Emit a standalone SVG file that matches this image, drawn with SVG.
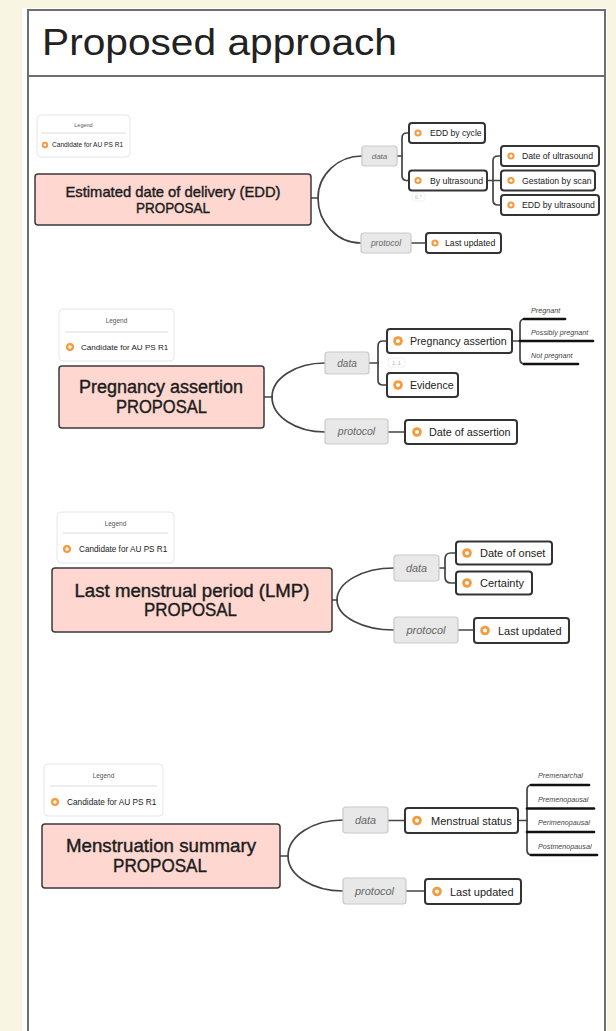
<svg xmlns="http://www.w3.org/2000/svg" xmlns:xlink="http://www.w3.org/1999/xlink" width="616" height="1031" viewBox="0 0 616 1031">
<style>
.main{fill:#fdd7d0;stroke:#3a3a3a;stroke-width:1.5}
.node{fill:#fff;stroke:#333;stroke-width:2}
.cat{fill:#e8e8e8;stroke:#c9c9c9;stroke-width:1.2}
.leg{fill:#fff;stroke:#e6e6e6;stroke-width:1}
.conn{fill:none;stroke:#444;stroke-width:1.7;stroke-linecap:round}
.val{fill:none;stroke:#111;stroke-width:2.6;stroke-linecap:round}
.sep{stroke:#dcdcdc;stroke-width:1}
.faint{fill:#fff;stroke:#ececec;stroke-width:0.8}
text{font-family:"Liberation Sans",Arial,sans-serif;fill:#222}
.t-main{text-anchor:middle;fill:#1c1c1c;stroke:#1c1c1c;stroke-width:0.4}
.t-cat{font-style:italic;fill:#666;text-anchor:middle}
.t-val{font-style:italic;fill:#444;font-size:7.2px}
.t-leg{fill:#555;text-anchor:middle}
.t-card{fill:#aaa;text-anchor:middle}
</style>
<defs>
<g id="ic"><circle r="1" fill="#f59a3d"/><circle r="0.42" fill="#fff"/></g>
</defs>
<rect x="0" y="0" width="616" height="1031" fill="#f8f6e3"/>
<rect x="22" y="8" width="585" height="1030" fill="#fff"/>
<rect x="28" y="10" width="577" height="1030" fill="#fff" stroke="#6e6e6e" stroke-width="2"/>
<line x1="28" y1="76" x2="605" y2="76" stroke="#6e6e6e" stroke-width="2"/>
<text x="42" y="55" font-size="37" textLength="355" lengthAdjust="spacingAndGlyphs" fill="#111">Proposed approach</text>

<g id="connectors">
<!-- EDD -->
<path class="conn" d="M311,198 H318"/>
<path class="conn" d="M318,198 A44,42 0 0 1 362,156"/>
<path class="conn" d="M318,198 A43,45 0 0 0 361,243"/>
<path class="conn" d="M397,156 H402"/>
<path class="conn" d="M409,133 H407 Q402,133 402,138 V175.5 Q402,180.5 407,180.5 H409"/>
<path class="conn" d="M487,180.5 H501"/>
<path class="conn" d="M501,156 H498 Q493,156 493,161 V200 Q493,205 498,205 H501"/>
<path class="conn" d="M411,243 H426"/>
<!-- Pregnancy -->
<path class="conn" d="M264,397 H272"/>
<path class="conn" d="M272,397 A53,34 0 0 1 325,363"/>
<path class="conn" d="M272,397 A53,35 0 0 0 325,432"/>
<path class="conn" d="M369,363 H378"/>
<path class="conn" d="M387,341 H383 Q378,341 378,346 V380 Q378,385 383,385 H387"/>
<path class="conn" d="M512,341 H520"/>
<path class="conn" d="M530,319 H525 Q520,319 520,324 V359 Q520,364 525,364 H530"/>
<path class="val" d="M524,319 H565"/>
<path class="val" d="M520,341 H593"/>
<path class="val" d="M524,364 H578"/>
<path class="conn" d="M388,432 H405"/>
<!-- LMP -->
<path class="conn" d="M332,600 H337"/>
<path class="conn" d="M337,600 A57,32 0 0 1 394,568"/>
<path class="conn" d="M337,600 A57,30 0 0 0 394,630"/>
<path class="conn" d="M439,568 H445"/>
<path class="conn" d="M456,553 H451 Q445,553 445,559 V577 Q445,583 451,583 H456"/>
<path class="conn" d="M458,630 H474"/>
<!-- Menstruation -->
<path class="conn" d="M280,856 H288"/>
<path class="conn" d="M288,856 A55,36 0 0 1 343,820"/>
<path class="conn" d="M288,856 A55,35 0 0 0 343,891"/>
<path class="conn" d="M388,820.5 H405"/>
<path class="conn" d="M518,820.5 H527"/>
<path class="conn" d="M537,785 H532 Q527,785 527,790 V850 Q527,855 532,855 H537"/>
<path class="val" d="M531,785 H589"/>
<path class="val" d="M527,808.5 H594"/>
<path class="val" d="M527,832 H594"/>
<path class="val" d="M531,855 H597"/>
<path class="conn" d="M406,891 H425"/>
</g>

<!-- ===== EDD ===== -->
<g id="legend-edd">
<rect class="leg" x="37" y="115" width="93" height="42" rx="4"/>
<text class="t-leg" x="83.5" y="126.5" font-size="5.5">Legend</text>
<line class="sep" x1="41" y1="133" x2="126" y2="133"/>
<use xlink:href="#ic" transform="translate(45,145) scale(3.2)"/>
<text x="52" y="147.3" font-size="6.6" fill="#444">Candidate for AU PS R1</text>
</g>
<g id="edd-main">
<rect class="main" x="35" y="174" width="276" height="51" rx="3"/>
<text class="t-main" x="173" y="197" font-size="14.5" textLength="215" lengthAdjust="spacingAndGlyphs">Estimated date of delivery (EDD)</text>
<text class="t-main" x="173" y="213" font-size="14.5" textLength="74" lengthAdjust="spacingAndGlyphs">PROPOSAL</text>
</g>
<g id="edd-data">
<rect class="cat" x="362" y="146" width="35" height="20" rx="3"/>
<text class="t-cat" x="379.5" y="158.8" font-size="8">data</text>
</g>
<g id="edd-cycle">
<rect class="node" x="409" y="123" width="76" height="20" rx="3"/>
<use xlink:href="#ic" transform="translate(418,133) scale(3.6)"/>
<text x="430" y="136" font-size="8.6">EDD by cycle</text>
</g>
<g id="edd-ultrasound">
<rect class="node" x="409" y="170.5" width="78" height="20" rx="3"/>
<use xlink:href="#ic" transform="translate(418,180.5) scale(3.6)"/>
<text x="430" y="183.5" font-size="8.7">By ultrasound</text>
<rect class="faint" x="412" y="193" width="13" height="8" rx="2"/>
<text class="t-card" x="418.5" y="198.8" font-size="4.5">0..*</text>
</g>
<g id="edd-date-us">
<rect class="node" x="501" y="146" width="98" height="20" rx="3"/>
<use xlink:href="#ic" transform="translate(511,156) scale(3.6)"/>
<text x="522" y="159" font-size="8.7">Date of ultrasound</text>
</g>
<g id="edd-gestation">
<rect class="node" x="501" y="170.5" width="94" height="20" rx="3"/>
<use xlink:href="#ic" transform="translate(511,180.5) scale(3.6)"/>
<text x="522" y="183.5" font-size="8.7">Gestation by scan</text>
</g>
<g id="edd-edd-us">
<rect class="node" x="501" y="195" width="98" height="20" rx="3"/>
<use xlink:href="#ic" transform="translate(511,205) scale(3.6)"/>
<text x="522" y="208" font-size="8.7">EDD by ultrasound</text>
</g>
<g id="edd-protocol">
<rect class="cat" x="361" y="233" width="50" height="20" rx="3"/>
<text class="t-cat" x="386" y="245.8" font-size="8.5">protocol</text>
</g>
<g id="edd-last-updated">
<rect class="node" x="426" y="233" width="75" height="20" rx="3"/>
<use xlink:href="#ic" transform="translate(435,243) scale(3.6)"/>
<text x="445" y="246" font-size="8.7">Last updated</text>
</g>

<!-- ===== Pregnancy ===== -->
<g id="legend-preg">
<rect class="leg" x="59" y="309" width="115" height="52" rx="4"/>
<text class="t-leg" x="116.5" y="323" font-size="6.5">Legend</text>
<line class="sep" x1="65" y1="332" x2="168" y2="332"/>
<use xlink:href="#ic" transform="translate(70,347) scale(4)"/>
<text x="81" y="350" font-size="8.1" fill="#444">Candidate for AU PS R1</text>
</g>
<g id="preg-main">
<rect class="main" x="59" y="366" width="205" height="62" rx="3"/>
<text class="t-main" x="161" y="393" font-size="18" textLength="164" lengthAdjust="spacingAndGlyphs">Pregnancy assertion</text>
<text class="t-main" x="161.5" y="413" font-size="18" textLength="91" lengthAdjust="spacingAndGlyphs">PROPOSAL</text>
</g>
<g id="preg-data">
<rect class="cat" x="325" y="352" width="44" height="22" rx="3"/>
<text class="t-cat" x="347" y="366.5" font-size="10">data</text>
</g>
<g id="preg-assertion">
<rect class="node" x="387" y="329" width="125" height="24" rx="3"/>
<use xlink:href="#ic" transform="translate(398,341) scale(4.8)"/>
<text x="410" y="345" font-size="10.6">Pregnancy assertion</text>
<rect class="faint" x="388" y="358" width="17" height="9" rx="2"/>
<text class="t-card" x="396.5" y="364.5" font-size="5">1..1</text>
</g>
<g id="preg-values">
<text class="t-val" x="531" y="312.5">Pregnant</text>
<text class="t-val" x="531" y="334.5">Possibly pregnant</text>
<text class="t-val" x="531" y="357.5">Not pregnant</text>
</g>
<g id="preg-evidence">
<rect class="node" x="387" y="373" width="71" height="24" rx="3"/>
<use xlink:href="#ic" transform="translate(398,385) scale(4.8)"/>
<text x="410" y="389" font-size="10.6">Evidence</text>
</g>
<g id="preg-protocol">
<rect class="cat" x="325" y="419" width="63" height="25" rx="3"/>
<text class="t-cat" x="356.5" y="435" font-size="10.5">protocol</text>
</g>
<g id="preg-date">
<rect class="node" x="405" y="420" width="112" height="24" rx="3"/>
<use xlink:href="#ic" transform="translate(417,432) scale(4.8)"/>
<text x="429" y="436" font-size="10.8">Date of assertion</text>
</g>

<!-- ===== LMP ===== -->
<g id="legend-lmp">
<rect class="leg" x="57" y="512" width="117" height="51" rx="4"/>
<text class="t-leg" x="115.5" y="525.5" font-size="6.5">Legend</text>
<line class="sep" x1="63" y1="533" x2="168" y2="533"/>
<use xlink:href="#ic" transform="translate(67,549) scale(4)"/>
<text x="79" y="552" font-size="8.2" fill="#444">Candidate for AU PS R1</text>
</g>
<g id="lmp-main">
<rect class="main" x="52" y="568" width="280" height="64" rx="3"/>
<text class="t-main" x="192" y="596.5" font-size="18.5" textLength="235" lengthAdjust="spacingAndGlyphs">Last menstrual period (LMP)</text>
<text class="t-main" x="190.5" y="615.5" font-size="18.5" textLength="93" lengthAdjust="spacingAndGlyphs">PROPOSAL</text>
</g>
<g id="lmp-data">
<rect class="cat" x="394" y="555" width="45" height="26" rx="3"/>
<text class="t-cat" x="416.5" y="572" font-size="10.8">data</text>
</g>
<g id="lmp-onset">
<rect class="node" x="456" y="541.5" width="96" height="23" rx="3"/>
<use xlink:href="#ic" transform="translate(467,553) scale(4.8)"/>
<text x="480" y="557" font-size="11">Date of onset</text>
</g>
<g id="lmp-certainty">
<rect class="node" x="456" y="571.5" width="76" height="23" rx="3"/>
<use xlink:href="#ic" transform="translate(467,583) scale(4.8)"/>
<text x="480" y="587" font-size="11">Certainty</text>
</g>
<g id="lmp-protocol">
<rect class="cat" x="394" y="617" width="64" height="26" rx="3"/>
<text class="t-cat" x="426" y="634" font-size="11">protocol</text>
</g>
<g id="lmp-last-updated">
<rect class="node" x="474" y="618" width="95" height="25" rx="3"/>
<use xlink:href="#ic" transform="translate(485,630.5) scale(4.8)"/>
<text x="498" y="634.5" font-size="11">Last updated</text>
</g>

<!-- ===== Menstruation ===== -->
<g id="legend-mens">
<rect class="leg" x="44" y="764" width="119" height="52" rx="4"/>
<text class="t-leg" x="103.5" y="777.5" font-size="6.5">Legend</text>
<line class="sep" x1="50" y1="786" x2="157" y2="786"/>
<use xlink:href="#ic" transform="translate(55,802) scale(4)"/>
<text x="67" y="805" font-size="8.3" fill="#444">Candidate for AU PS R1</text>
</g>
<g id="mens-main">
<rect class="main" x="42" y="824" width="238" height="64" rx="3"/>
<text class="t-main" x="161" y="852" font-size="18.5" textLength="190" lengthAdjust="spacingAndGlyphs">Menstruation summary</text>
<text class="t-main" x="160" y="872" font-size="18.5" textLength="94" lengthAdjust="spacingAndGlyphs">PROPOSAL</text>
</g>
<g id="mens-data">
<rect class="cat" x="343" y="807" width="45" height="26" rx="3"/>
<text class="t-cat" x="365.5" y="824" font-size="10.8">data</text>
</g>
<g id="mens-status">
<rect class="node" x="405" y="808" width="113" height="25" rx="3"/>
<use xlink:href="#ic" transform="translate(417,820.5) scale(4.8)"/>
<text x="431" y="824.5" font-size="11">Menstrual status</text>
</g>
<g id="mens-values">
<text class="t-val" x="538" y="778">Premenarchal</text>
<text class="t-val" x="538" y="801.5">Premenopausal</text>
<text class="t-val" x="538" y="825">Perimenopausal</text>
<text class="t-val" x="538" y="848.5">Postmenopausal</text>
</g>
<g id="mens-protocol">
<rect class="cat" x="343" y="878" width="63" height="26" rx="3"/>
<text class="t-cat" x="374.5" y="895" font-size="11">protocol</text>
</g>
<g id="mens-last-updated">
<rect class="node" x="425" y="879" width="96" height="25" rx="3"/>
<use xlink:href="#ic" transform="translate(437,891.5) scale(4.8)"/>
<text x="450" y="895.5" font-size="11">Last updated</text>
</g>
</svg>
